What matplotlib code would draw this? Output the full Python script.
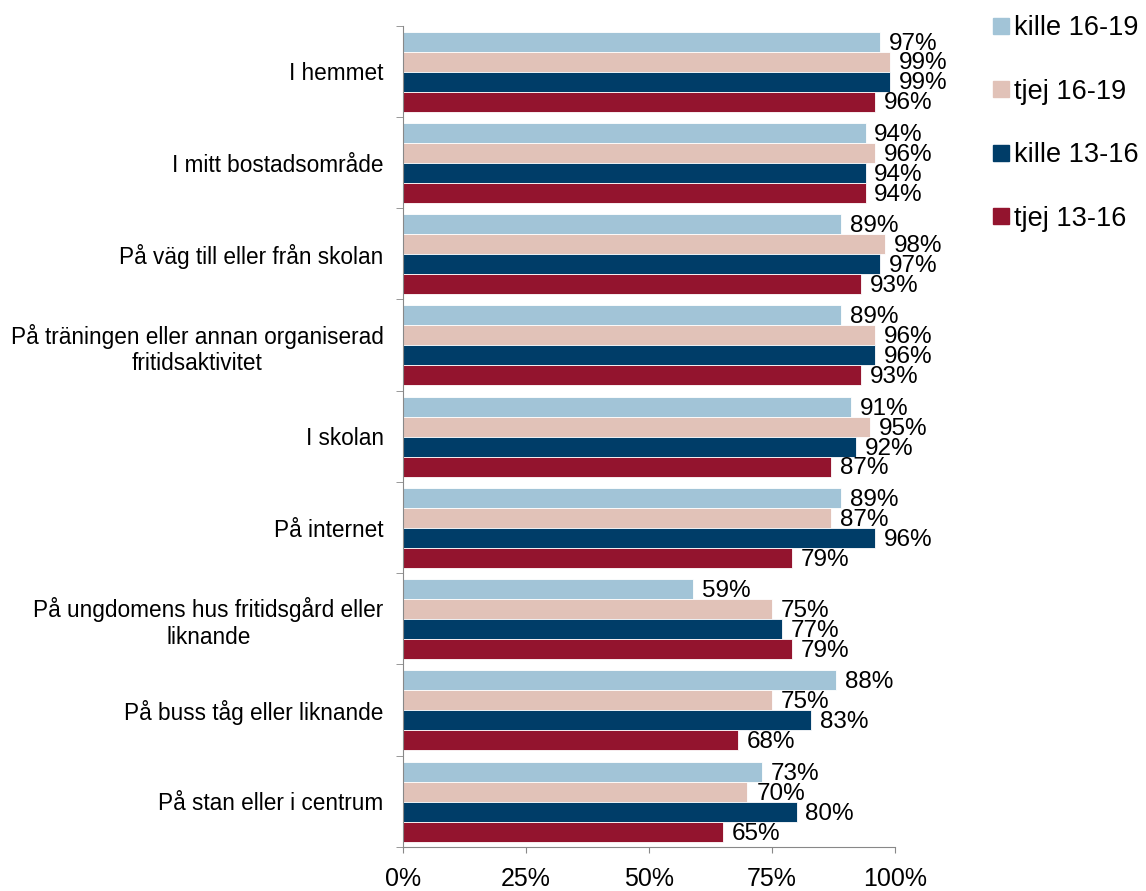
import matplotlib.pyplot as plt
import numpy as np
from matplotlib.lines import Line2D

plt.rcParams['font.family'] = ['Liberation Sans', 'DejaVu Sans']

categories = [
    'I hemmet',
    'I mitt bostadsområde',
    'På väg till eller från skolan',
    'På träningen eller annan organiserad\nfritidsaktivitet',
    'I skolan',
    'På internet',
    'På ungdomens hus fritidsgård eller\nliknande',
    'På buss tåg eller liknande',
    'På stan eller i centrum',
]
series = ['kille 16-19', 'tjej 16-19', 'kille 13-16', 'tjej 13-16']
kille_16_19 = [97, 94, 89, 89, 91, 89, 59, 88, 73]
tjej_16_19 = [99, 96, 98, 96, 95, 87, 75, 75, 70]
kille_13_16 = [99, 94, 97, 96, 92, 96, 77, 83, 80]
tjej_13_16 = [96, 94, 93, 93, 87, 79, 79, 68, 65]
colors = ['#A2C4D7', '#E1C2B8', '#003D68', '#93142E']

values = [kille_16_19, tjej_16_19, kille_13_16, tjej_13_16]

fig = plt.figure(figsize=(11.46, 8.91), dpi=100)
ax = fig.add_axes([0.3517, 0.0494, 0.4293, 0.9218])

y = np.arange(len(categories))
h = 0.219
for j, (vals, col, name) in enumerate(zip(values, colors, series)):
    pos = y + (j - 1.5) * h + 0.004
    ax.barh(pos, vals, height=h, color=col, edgecolor='white', linewidth=0.6, label=name)
    # procentetikett till höger om varje stapel
    for p, v in zip(pos, vals):
        ax.text(v + 1.8, p + 0.02, f'{v}%', va='center', ha='left', fontsize=17.5)

ax.set_xlim(0, 100)
ax.set_ylim(len(categories) - 0.5, -0.5)
ax.set_xticks([0, 25, 50, 75, 100])
ax.set_xticklabels(['0%', '25%', '50%', '75%', '100%'], fontsize=18)
ax.set_yticks(y)
ax.set_yticklabels(categories, fontsize=16.3, multialignment='center')
ax.set_yticks(np.arange(len(categories) + 1) - 0.5, minor=True)
ax.tick_params(axis='y', which='major', length=0, pad=14)
ax.tick_params(axis='y', which='minor', length=5, color='#888888')
ax.tick_params(axis='x', length=4.5, color='#888888', pad=10)
for s in ['top', 'right']:
    ax.spines[s].set_visible(False)
for s in ['left', 'bottom']:
    ax.spines[s].set_color('#888888')

handles = [Line2D([], [], marker='s', linestyle='none', markersize=11,
                  markerfacecolor=c, markeredgecolor=c) for c in colors]
fig.legend(handles, series, loc='upper left', bbox_to_anchor=(0.840, 1.010),
           fontsize=19.5, frameon=False, handletextpad=0.0, handlelength=1.0,
           labelspacing=1.38)

fig.savefig('out.png', dpi=100)
